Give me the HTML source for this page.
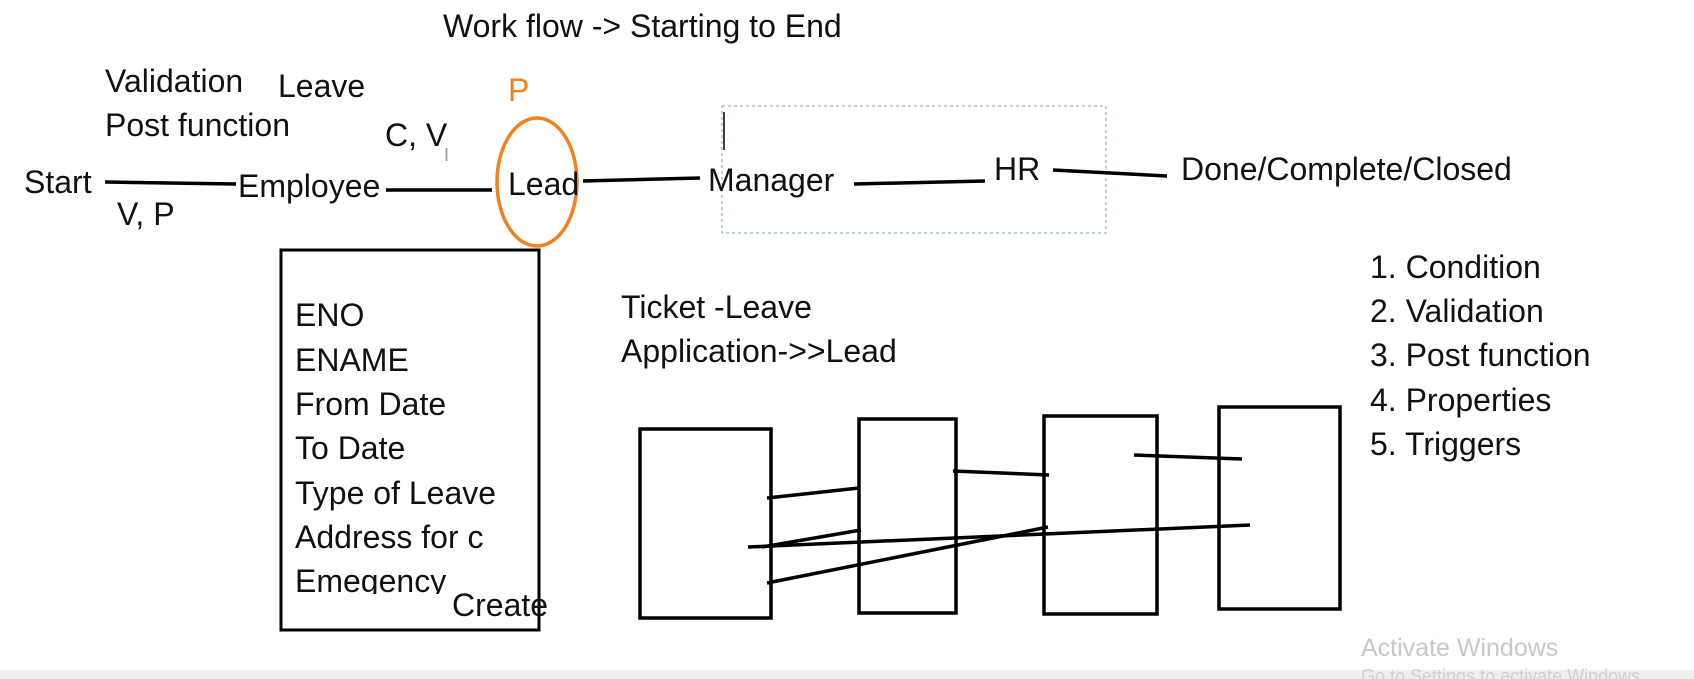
<!DOCTYPE html>
<html><head><meta charset="utf-8"><style>
html,body{margin:0;padding:0;background:#fff;width:1694px;height:679px;overflow:hidden}
svg{display:block}
text{font-family:"Liberation Sans",sans-serif;font-size:32px;fill:#111;dominant-baseline:central}
</style></head><body>
<svg width="1694" height="679" viewBox="0 0 1694 679">
<rect x="0" y="0" width="1694" height="679" fill="#fff"/>
<text x="443" y="26">Work flow -&gt; Starting to End</text>
<text x="105" y="81">Validation</text>
<text x="278" y="86">Leave</text>
<text x="105" y="125">Post function</text>
<text x="385" y="135">C, V</text>
<text x="444" y="155" style="font-size:18px;fill:#999">I</text>
<text x="508" y="90" style="fill:#f08020">P</text>
<text x="24" y="182">Start</text>
<line x1="105" y1="182" x2="236" y2="184" stroke="#000" stroke-width="3.5"/>
<text x="117" y="214">V, P</text>
<text x="238" y="186">Employee</text>
<line x1="386" y1="190" x2="492" y2="190" stroke="#000" stroke-width="3.5"/>
<ellipse cx="537" cy="182" rx="40" ry="64" fill="none" stroke="#f08020" stroke-width="3.5"/>
<text x="508" y="184">Lead</text>
<line x1="583" y1="181" x2="700" y2="178" stroke="#000" stroke-width="3.5"/>
<rect x="722" y="106" width="384" height="127" fill="none" stroke="#7aa" stroke-width="1" stroke-dasharray="3,3"/>
<line x1="724" y1="112" x2="724" y2="150" stroke="#000" stroke-width="1.5"/>
<text x="708" y="180">Manager</text>
<line x1="854" y1="184" x2="985" y2="181" stroke="#000" stroke-width="3.5"/>
<text x="994" y="169">HR</text>
<line x1="1053" y1="170" x2="1167" y2="176" stroke="#000" stroke-width="3.5"/>
<text x="1181" y="169">Done/Complete/Closed</text>
<rect x="281" y="250" width="258" height="380" fill="none" stroke="#000" stroke-width="3"/>
<text x="295" y="315">ENO</text>
<text x="295" y="360">ENAME</text>
<text x="295" y="404">From Date</text>
<text x="295" y="448">To Date</text>
<text x="295" y="493">Type of Leave</text>
<text x="295" y="537">Address for c</text>
<text x="295" y="581">Emegency</text>
<rect x="283" y="594" width="170" height="34" fill="#fff"/>
<text x="452" y="605">Create</text>
<text x="621" y="307">Ticket -Leave</text>
<text x="621" y="351">Application-&gt;&gt;Lead</text>
<text x="1370" y="267">1. Condition</text>
<text x="1370" y="311">2. Validation</text>
<text x="1370" y="355">3. Post function</text>
<text x="1370" y="400">4. Properties</text>
<text x="1370" y="444">5. Triggers</text>
<g fill="none" stroke="#000" stroke-width="3.5">
<rect x="640" y="429" width="131" height="189"/>
<rect x="859" y="419" width="97" height="194"/>
<rect x="1044" y="416" width="113" height="198"/>
<rect x="1219" y="407" width="121" height="202"/>
<line x1="767" y1="498" x2="859" y2="488"/>
<line x1="953" y1="471" x2="1049" y2="475"/>
<line x1="1134" y1="455" x2="1242" y2="459"/>
<line x1="748" y1="547" x2="1250" y2="525"/>
<line x1="762" y1="547" x2="861" y2="530"/>
<line x1="767" y1="583" x2="1048" y2="527"/>
</g>
<rect x="0" y="670" width="1694" height="9" fill="#eee"/>
<text x="1361" y="648" style="font-size:25px;fill:#c8c8c8">Activate Windows</text>
<text x="1361" y="676" style="font-size:18px;fill:#d0d0d0">Go to Settings to activate Windows.</text>
</svg>
</body></html>
